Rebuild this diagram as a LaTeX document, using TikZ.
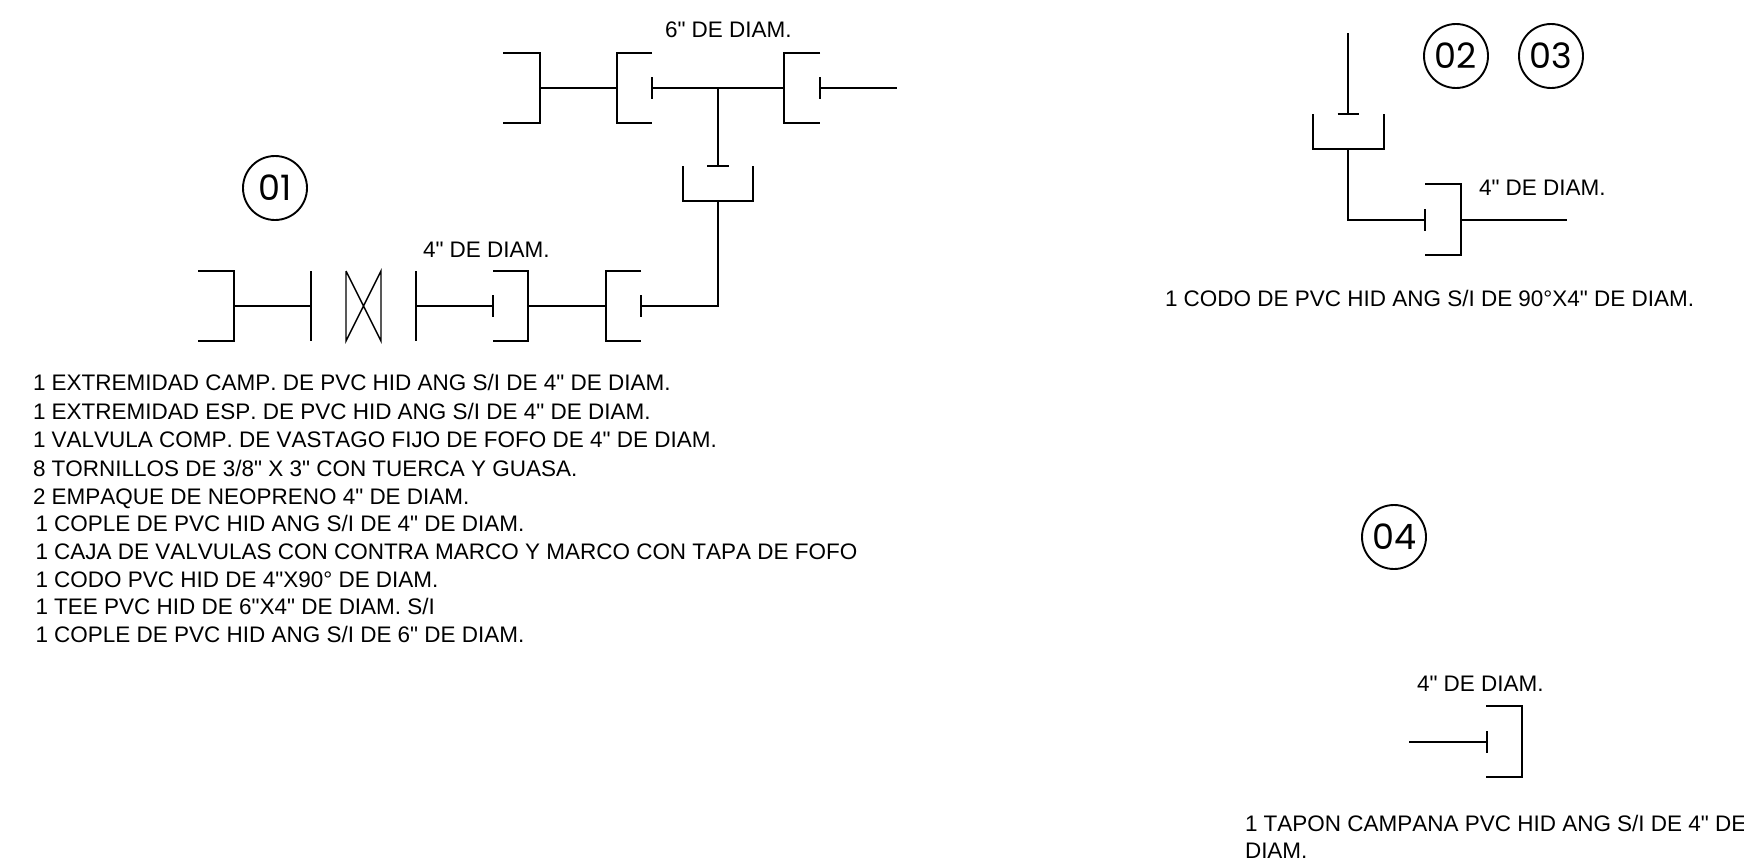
\documentclass[tikz,border=0pt]{standalone}
\usepackage{fontspec}
\setmainfont[Ligatures=TeXOff,Kerning=Off]{Liberation Sans}
\newfontfamily\cadfont{Poppins}
\tikzset{
  pipe/.style={line width=2pt,black,line cap=butt,line join=miter},
  thinpipe/.style={line width=1.4pt,black},
  lbl/.style={anchor=base west,inner sep=0pt,outer sep=0pt,font=\fontsize{22.48}{26}\selectfont},
  tag/.style={circle,draw,line width=1.9pt,minimum size=64pt,inner sep=0pt,font=\cadfont\fontsize{35}{38}\selectfont}
}
\begin{document}
\begin{tikzpicture}[x=1pt,y=-1pt]
\useasboundingbox (0,0) rectangle (1744,862);
\fill[white] (0,0) rectangle (1744,862);
% top run 01
\draw[pipe] (503,53)--(540,53)--(540,123)--(503,123);
\draw[pipe] (540,88)--(617,88);
\draw[pipe] (652,53)--(617,53)--(617,123)--(652,123);
\draw[pipe] (652,77)--(652,99);
\draw[pipe] (652,88)--(784,88);
\draw[pipe] (820,53)--(784,53)--(784,123)--(820,123);
\draw[pipe] (820,77)--(820,99);
\draw[pipe] (820,88)--(897,88);
\draw[pipe] (718,88)--(718,166);
\draw[pipe] (707,166)--(729,166);
\draw[pipe] (683,166)--(683,201)--(753,201)--(753,166);
\draw[pipe] (718,201)--(718,306)--(641,306);
% bottom run 01
\draw[pipe] (641,295)--(641,317);
\draw[pipe] (641,271)--(606,271)--(606,341)--(641,341);
\draw[pipe] (606,306)--(528,306);
\draw[pipe] (493,271)--(528,271)--(528,341)--(493,341);
\draw[pipe] (493,295)--(493,317);
\draw[pipe] (493,306)--(416,306);
\draw[pipe] (416,271)--(416,341);
\draw[thinpipe] (346,271)--(346,341)--(381,271)--(381,341)--(346,271);
\draw[pipe] (311,271)--(311,341);
\draw[pipe] (311,306)--(234,306);
\draw[pipe] (198,271)--(234,271)--(234,341)--(198,341);
% 02 03
\draw[pipe] (1348,33)--(1348,114);
\draw[pipe] (1337.5,114)--(1359,114);
\draw[pipe] (1313,114)--(1313,149)--(1384,149)--(1384,114);
\draw[pipe] (1348,149)--(1348,220)--(1425,220);
\draw[pipe] (1425,209)--(1425,231);
\draw[pipe] (1425,184)--(1461,184)--(1461,255)--(1425,255);
\draw[pipe] (1461,220)--(1567,220);
% 04
\draw[pipe] (1409,742)--(1487,742);
\draw[pipe] (1487,731)--(1487,753);
\draw[pipe] (1486,706)--(1522,706)--(1522,777)--(1486,777);
% tags
\node[tag] (t1) at (275,188) {01};
\node[tag] (t2) at (1456,56) {02};
\node[tag] (t3) at (1551,56) {03};
\node[tag] (t4) at (1394,537) {04};
% labels
\node[lbl] (a) at (665,37) {6" DE DIAM.};
\node[lbl] (b) at (423,257) {4" DE DIAM.};
\node[lbl] (c) at (1479,195) {4" DE DIAM.};
\node[lbl] (d) at (1417,691) {4" DE DIAM.};
\node[lbl] (e) at (1165,306) {1 CODO DE PVC HID ANG S/I DE 90°X4" DE DIAM.};
\node[lbl] (f) at (1245,831) {1 TAPON CAMPANA PVC HID ANG S/I DE 4" DE};
\node[lbl] (g) at (1245,858) {DIAM.};
\node[lbl] (l1) at (33,390.5) {1 EXTREMIDAD CAMP. DE PVC HID ANG S/I DE 4" DE DIAM.};
\node[lbl] (l2) at (33,419) {1 EXTREMIDAD ESP. DE PVC HID ANG S/I DE 4" DE DIAM.};
\node[lbl] (l3) at (33,447.5) {1 VALVULA COMP. DE VASTAGO FIJO DE FOFO DE 4" DE DIAM.};
\node[lbl] (l4) at (33,476) {8 TORNILLOS DE 3/8" X 3" CON TUERCA Y GUASA.};
\node[lbl] (l5) at (33,504) {2 EMPAQUE DE NEOPRENO 4" DE DIAM.};
\node[lbl] (l6) at (35.5,531.5) {1 COPLE DE PVC HID ANG S/I DE 4" DE DIAM.};
\node[lbl] (l7) at (35.5,559) {1 CAJA DE VALVULAS CON CONTRA MARCO Y MARCO CON TAPA DE FOFO};
\node[lbl] (l8) at (35.5,587) {1 CODO PVC HID DE 4"X90° DE DIAM.};
\node[lbl] (l9) at (35.5,614.5) {1 TEE PVC HID DE 6"X4" DE DIAM. S/I};
\node[lbl] (l10) at (35.5,642) {1 COPLE DE PVC HID ANG S/I DE 6" DE DIAM.};
\end{tikzpicture}
\end{document}
